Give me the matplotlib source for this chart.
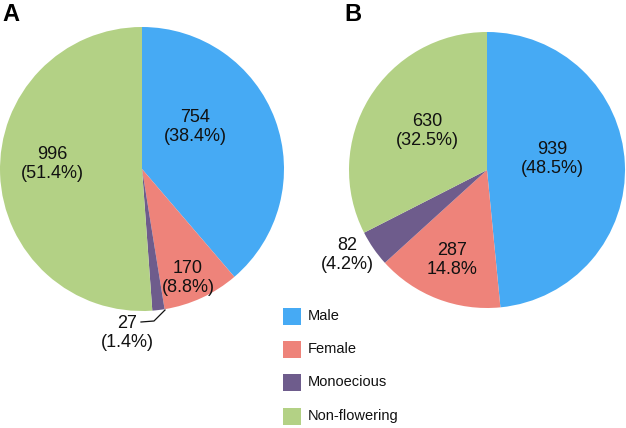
import matplotlib
matplotlib.use("Agg")
import matplotlib.pyplot as plt
from matplotlib.patches import Rectangle

categories = ["Male", "Female", "Monoecious", "Non-flowering"]
colors = ["#46aaf4", "#ee837a", "#6e5c8c", "#b3d185"]

counts_a = [754, 170, 27, 996]
pcts_a = ["(38.4%)", "(8.8%)", "(1.4%)", "(51.4%)"]
counts_b = [939, 287, 82, 630]
pcts_b = ["(48.5%)", "14.8%", "(4.2%)", "(32.5%)"]

W, H = 626, 428
fig = plt.figure(figsize=(W / 100, H / 100), dpi=100)
ax = fig.add_axes([0, 0, 1, 1])
ax.set_xlim(0, W)
ax.set_ylim(0, H)
ax.set_aspect("equal")
ax.axis("off")

def Y(y):
    return H - y

font = "Liberation Sans"

ax.pie(counts_a, colors=colors, startangle=90, counterclock=False,
       center=(142, Y(169)), radius=142, wedgeprops=dict(linewidth=0))
ax.pie(counts_b, colors=colors, startangle=90, counterclock=False,
       center=(487, Y(170)), radius=138, wedgeprops=dict(linewidth=0))
ax.set_xlim(0, W)
ax.set_ylim(0, H)

lab_fs = 13
pos_a = [(195, 127), (188, 278), (127, 333), (52, 164)]
pos_b = [(552, 159), (452, 260), (347, 255), (427, 131)]
for c, p, (x, y) in zip(counts_a, pcts_a, pos_a):
    ax.text(x, Y(y), f"{c}\n{p}", ha="center", va="center", fontsize=lab_fs,
            family=font, linespacing=1.22, color="#111111")
for c, p, (x, y) in zip(counts_b, pcts_b, pos_b):
    ax.text(x, Y(y), f"{c}\n{p}", ha="center", va="center", fontsize=lab_fs,
            family=font, linespacing=1.22, color="#111111")

# leader line for the small slice in A
ax.plot([141, 154, 165], [Y(322), Y(321), Y(310)], color="#111111", lw=0.9)

# panel labels
ax.text(11, Y(14), "A", ha="center", va="center", fontsize=17,
        fontweight="bold", family=font)
ax.text(353, Y(14), "B", ha="center", va="center", fontsize=17,
        fontweight="bold", family=font)

# legend
leg_y = [316, 349, 382, 416]
for cat, col, y in zip(categories, colors, leg_y):
    ax.add_patch(Rectangle((283, Y(y) - 8.5), 18, 17, facecolor=col,
                           edgecolor="none"))
    ax.text(308, Y(y), cat, ha="left", va="center", fontsize=10.5,
            family=font, color="#111111")

fig.savefig("out.png", dpi=100)
